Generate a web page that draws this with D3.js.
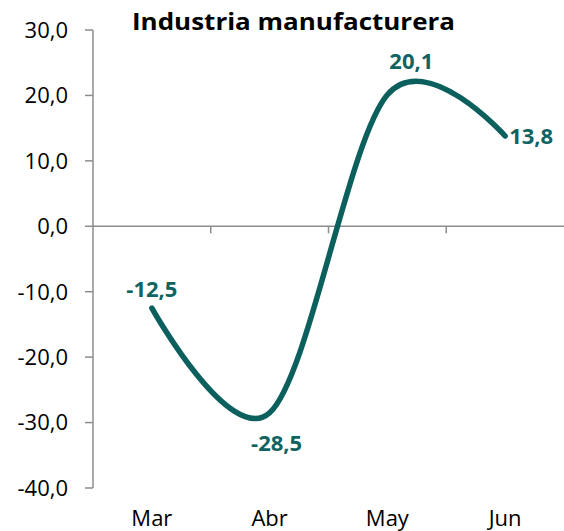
<!DOCTYPE html>
<html>
<head>
<meta charset="utf-8">
<script src="https://cdn.jsdelivr.net/npm/d3@7"></script>
<style>
  body { margin: 0; background: #fff; }
  text { font-family: "Open Sans", sans-serif; }
</style>
</head>
<body>
<svg id="chart" width="564" height="531"></svg>
<script>
const months = ["Mar", "Abr", "May", "Jun"]
const values = [-12.5, -28.5, 20.1, 13.8]
const yTicks = [30, 20, 10, 0, -10, -20, -30, -40]

const width = 564,
    height = 531,
    margin = { top: 30, left: 93, right: 0, bottom: 43 }

const svg = d3.select("#chart")

const x = d3.scaleBand()
    .domain(months)
    .range([margin.left, width - margin.right])

const y = d3.scaleLinear()
    .domain([-40, 30])
    .range([height - margin.bottom, margin.top])

const fmt = v => d3.format(".1f")(v).replace(".", ",").replace("−", "-")

// y axis
svg.append("line")
    .attr("x1", margin.left).attr("x2", margin.left)
    .attr("y1", y(30)).attr("y2", y(-40))
    .attr("stroke", "#8c8c8c").attr("stroke-width", 1.5)

svg.selectAll(".ytick")
    .data(yTicks)
    .enter()
    .append("line")
    .attr("x1", margin.left - 8).attr("x2", margin.left)
    .attr("y1", d => y(d)).attr("y2", d => y(d))
    .attr("stroke", "#8c8c8c").attr("stroke-width", 1.5)

svg.selectAll(".ylabel")
    .data(yTicks)
    .enter()
    .append("text")
    .attr("x", margin.left - 25)
    .attr("y", d => y(d))
    .attr("dy", "0.36em")
    .attr("text-anchor", "end")
    .attr("font-size", 22)
    .attr("fill", "#000")
    .text(d => fmt(d))

// zero line with category ticks
svg.append("line")
    .attr("x1", margin.left).attr("x2", width)
    .attr("y1", y(0)).attr("y2", y(0))
    .attr("stroke", "#8c8c8c").attr("stroke-width", 1.5)

svg.selectAll(".xtick")
    .data(months.slice(1))
    .enter()
    .append("line")
    .attr("x1", d => x(d)).attr("x2", d => x(d))
    .attr("y1", y(0)).attr("y2", y(0) + 7)
    .attr("stroke", "#8c8c8c").attr("stroke-width", 1.5)

svg.selectAll(".xlabel")
    .data(months)
    .enter()
    .append("text")
    .attr("x", d => x(d) + x.bandwidth() / 2)
    .attr("y", 526)
    .attr("text-anchor", "middle")
    .attr("font-size", 22)
    .attr("fill", "#000")
    .text(d => d)

// line
const pts = months.map((m, i) => [x(m) + x.bandwidth() / 2, y(values[i])])

svg.append("path")
    .attr("d", d3.line().curve(d3.curveCardinal.tension(0))(pts))
    .attr("fill", "none")
    .attr("stroke", "#0b5f5d")
    .attr("stroke-width", 5.5)
    .attr("stroke-linecap", "round")

// data labels
const labelPos = [
    { dx: 0, dy: -11, anchor: "middle" },
    { dx: 7, dy: 38, anchor: "middle" },
    { dx: 24, dy: -26, anchor: "middle" },
    { dx: 4, dy: 8, anchor: "start" }
]

svg.selectAll(".dlabel")
    .data(pts)
    .enter()
    .append("text")
    .attr("x", (d, i) => d[0] + labelPos[i].dx)
    .attr("y", (d, i) => d[1] + labelPos[i].dy)
    .attr("text-anchor", (d, i) => labelPos[i].anchor)
    .attr("font-size", 22)
    .attr("font-weight", "bold")
    .attr("fill", "#0f6461")
    .text((d, i) => fmt(values[i]))

// title
svg.append("text")
    .attr("x", 132)
    .attr("y", 30)
    .attr("font-size", 23)
    .attr("font-weight", "bold")
    .attr("fill", "#000")
    .attr("textLength", 323)
    .attr("lengthAdjust", "spacingAndGlyphs")
    .text("Industria manufacturera")
</script>
</body>
</html>
